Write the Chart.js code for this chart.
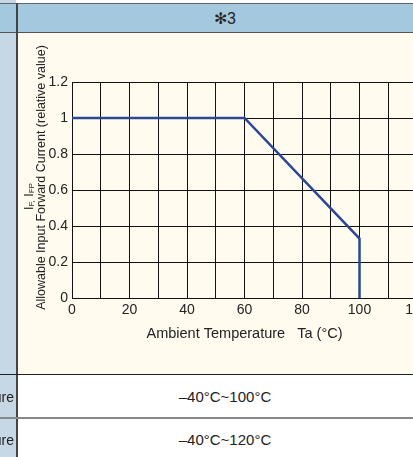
<!DOCTYPE html>
<html>
<head>
<meta charset="utf-8">
<script src="https://cdn.jsdelivr.net/npm/chart.js@4.4.0/dist/chart.umd.min.js"></script>
<style>
  html, body { margin: 0; padding: 0; width: 413px; height: 457px; overflow: hidden; background: #fff; }
  body { position: relative; font-family: "Liberation Sans", Arial, sans-serif; color: #222; }
  .abs { position: absolute; }
  #leftcol { left: 0; top: 0; width: 16px; height: 457px; background: #c6d7e5; }
  #vline { left: 16px; top: 3px; width: 2px; height: 454px; background: #444; }
  #topline { left: 0; top: 3px; width: 413px; height: 1px; background: #666; }
  #head { left: 18px; top: 4px; width: 414px; height: 28px; background: #a4c9df; text-align: center; line-height: 29px; font-size: 16px; }
  #headleft { left: 0; top: 4px; width: 16px; height: 28px; background: #a4c9df; }
  #headline { left: 0; top: 32px; width: 413px; height: 1px; background: #555; }
  #cell { left: 18px; top: 33px; width: 414px; height: 341px; background: #fffbee; }
  #cellline { left: 0; top: 374px; width: 413px; height: 1px; background: #222; }
  #rowline { left: 0; top: 417px; width: 413px; height: 2px; background: #888; }
  .row { left: 18px; width: 414px; text-align: center; font-size: 15px; background: #fff; }
  .lab { left: 0; width: 14px; overflow: hidden; direction: rtl; white-space: nowrap; font-size: 14px; }
  #chartbox { left: 17px; top: 33px; width: 420px; height: 341px; }
  #ytitle { left: 35px; top: 166px; width: 300px; margin-left: -150px; transform: rotate(-90deg); transform-origin: 50% 50%; text-align: center; font-size: 12.5px; line-height: 11px; }
  #ytitle sub { font-size: 8px; vertical-align: baseline; position: relative; top: 1px; }
</style>
</head>
<body>
<div class="abs" id="leftcol"></div>
<div class="abs" id="headleft"></div>
<div class="abs" id="topline"></div>
<div class="abs" id="head">✻3</div>
<div class="abs" id="headline"></div>
<div class="abs" id="cell"></div>
<div class="abs" id="chartbox"><canvas id="chart" width="420" height="341"></canvas></div>
<div class="abs" id="ytitle"><span style="position:relative;left:-19px">I<sub>F,</sub> I<sub>FP</sub></span><br>Allowable Input Forward Current (relative value)</div>
<div class="abs" id="vline"></div>
<div class="abs" id="cellline"></div>
<div class="abs row" style="top:375px;height:42px;line-height:44px;">–40°C~100°C</div>
<div class="abs lab" style="top:375px;height:42px;line-height:44px;">Operating Temperature</div>
<div class="abs" id="rowline"></div>
<div class="abs row" style="top:419px;height:38px;line-height:42px;">–40°C~120°C</div>
<div class="abs lab" style="top:419px;height:38px;line-height:42px;">Storage Temperature</div>
<script>
// derating curve: ambient temperature vs relative forward current
const temps = [0, 60, 100, 100];
const current = [1, 1, 0.33, 0];
const xTicks = [0, 20, 40, 60, 80, 100, 120];
const yLabels = ["0", "0.2", "0.4", "0.6", "0.8", "1", "1.2"];

const points = temps.map((t, i) => ({ x: t, y: current[i] }));

new Chart(document.getElementById("chart"), {
  type: "line",
  data: {
    datasets: [{
      data: points,
      borderColor: "#2b4795",
      borderWidth: 2.5,
      pointRadius: 0,
      tension: 0,
      fill: false
    }]
  },
  options: {
    responsive: false,
    animation: false,
    maintainAspectRatio: false,
    layout: { padding: { top: 49, right: 20, bottom: 31, left: 0 } },
    plugins: { legend: { display: false }, tooltip: { enabled: false } },
    scales: {
      x: {
        type: "linear",
        min: 0,
        max: 120,
        afterFit: s => { s.height = 45; },
        grid: { color: "#111", lineWidth: 1, drawTicks: false },
        border: { color: "#111", width: 1 },
        afterBuildTicks: s => { s.ticks = []; for (let v = 0; v <= 120; v += 10) s.ticks.push({ value: v }); },
        ticks: {
          autoSkip: false,
          maxRotation: 0,
          padding: 4,
          color: "#222",
          font: { family: "Liberation Sans", size: 14 },
          callback: v => xTicks.includes(v) ? String(v) : ""
        },
        title: {
          display: true,
          text: "Ambient Temperature   Ta (°C)",
          color: "#222",
          font: { family: "Liberation Sans", size: 14.5 },
          padding: { top: 3, bottom: 0 }
        }
      },
      y: {
        min: 0,
        max: 1.2,
        afterFit: s => { s.width = 55; },
        grid: { color: "#111", lineWidth: 1, drawTicks: false },
        border: { color: "#111", width: 1 },
        ticks: {
          stepSize: 0.1,
          padding: 4,
          color: "#222",
          font: { family: "Liberation Sans", size: 14 },
          callback: v => {
            const k = Math.round(v * 10);
            return k % 2 === 0 ? yLabels[k / 2] : "";
          }
        }
      }
    }
  }
});
</script>
</body>
</html>
